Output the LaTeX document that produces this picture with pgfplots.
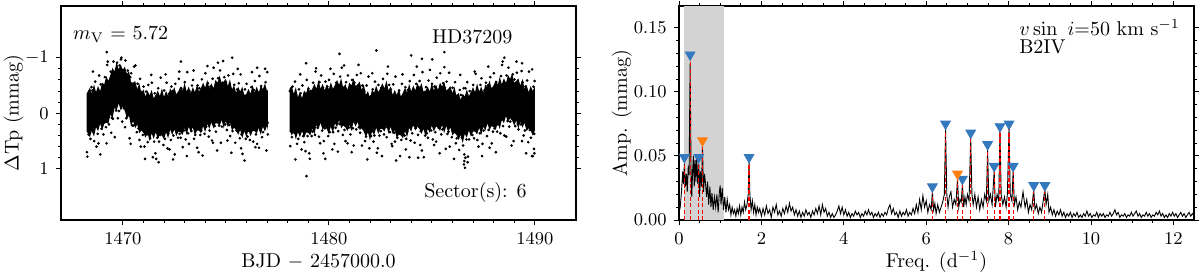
\documentclass[border=0pt]{standalone}
\usepackage{pgfplots}
\pgfplotsset{compat=1.18}
\definecolor{tabblue}{RGB}{52,120,190}
\definecolor{taborange}{RGB}{255,127,14}
\definecolor{shade}{RGB}{211,211,211}
\begin{document}
\begin{tikzpicture}
\path[use as bounding box] (0,0) rectangle (600pt,137.5pt);
\pgfplotsset{
  every axis/.append style={
    scale only axis, width=257.5pt, height=107pt,
    axis line style={line width=0.6pt},
    tick align=outside,
    major tick length=2.6pt, minor tick length=1.5pt,
    every tick/.style={black, line width=0.5pt},
    tick label style={font=\fontsize{9.3}{10}\selectfont},
    label style={font=\fontsize{10}{12}\selectfont},
    xlabel style={at={(axis description cs:0.5,-0.222)}, anchor=base, inner sep=0pt},
    xticklabel style={anchor=base, yshift=-9.4pt, inner sep=0pt},
  }
}
% ---------------- left panel: light curve ----------------
\begin{axis}[at={(30.5pt,27.5pt)}, anchor=south west,
  xmin=1467, xmax=1492, ymin=-1.93, ymax=1.92, y dir=reverse,
  xtick={1470,1480,1490}, minor x tick num=9,
  ytick={-1,0,1}, minor y tick num=4,
  /pgf/number format/1000 sep={},
  xlabel={BJD $-$ 2457000.0},
  ylabel={$\Delta$Tp (mmag)},
  ylabel style={at={(axis description cs:-0.0922,0.5)}, anchor=center},
  clip=true]
% dense core of segment 1 (upper edge forward, lower edge back)
\addplot[fill=black, draw=none] table[x expr=\thisrowno{0}+1400, y index=1] {
68.25 -0.35
68.3 -0.39
68.4 -0.46
68.5 -0.36
68.6 -0.52
68.7 -0.38
68.8 -0.49
68.9 -0.40
69.0 -0.55
69.1 -0.52
69.2 -0.67
69.3 -0.58
69.4 -0.69
69.5 -0.82
69.6 -0.75
69.7 -0.93
69.8 -0.79
69.9 -0.88
70.0 -0.77
70.1 -0.84
70.2 -0.71
70.3 -0.76
70.4 -0.56
70.5 -0.55
70.6 -0.58
70.7 -0.43
70.8 -0.54
70.9 -0.36
71.0 -0.43
71.1 -0.30
71.2 -0.41
71.3 -0.32
71.4 -0.42
71.5 -0.27
71.6 -0.33
71.7 -0.41
71.8 -0.31
71.9 -0.45
72.0 -0.29
72.1 -0.40
72.2 -0.31
72.3 -0.45
72.4 -0.37
72.5 -0.47
72.6 -0.34
72.7 -0.40
72.8 -0.48
72.9 -0.39
73.0 -0.55
73.1 -0.39
73.2 -0.48
73.3 -0.36
73.4 -0.47
73.5 -0.38
73.6 -0.51
73.7 -0.39
73.8 -0.46
73.9 -0.55
74.0 -0.46
74.1 -0.60
74.2 -0.44
74.3 -0.54
74.4 -0.45
74.5 -0.60
74.6 -0.55
74.7 -0.68
74.8 -0.54
74.9 -0.57
75.0 -0.62
75.1 -0.49
75.2 -0.61
75.3 -0.43
75.4 -0.50
75.5 -0.37
75.6 -0.48
75.7 -0.39
75.8 -0.48
75.9 -0.32
76.0 -0.35
76.1 -0.44
76.2 -0.35
76.3 -0.51
76.4 -0.37
76.5 -0.48
76.6 -0.37
76.7 -0.50
76.8 -0.43
76.9 -0.54
77.0 -0.40
77.04 -0.42
77.04 0.30
77.0 0.22
76.9 0.33
76.8 0.24
76.7 0.39
76.6 0.26
76.5 0.37
76.4 0.32
76.3 0.32
76.2 0.41
76.1 0.30
76.0 0.43
75.9 0.32
75.8 0.45
75.7 0.30
75.6 0.39
75.5 0.30
75.4 0.26
75.3 0.31
75.2 0.16
75.1 0.25
75.0 0.14
74.9 0.27
74.8 0.12
74.7 0.23
74.6 0.18
74.5 0.18
74.4 0.27
74.3 0.16
74.2 0.28
74.1 0.19
74.0 0.34
73.9 0.23
73.8 0.36
73.7 0.31
73.6 0.31
73.5 0.40
73.4 0.25
73.3 0.34
73.2 0.24
73.1 0.39
73.0 0.26
72.9 0.39
72.8 0.34
72.7 0.33
72.6 0.41
72.5 0.29
72.4 0.39
72.3 0.29
72.2 0.45
72.1 0.34
72.0 0.47
71.9 0.40
71.8 0.38
71.7 0.46
71.6 0.34
71.5 0.46
71.4 0.36
71.3 0.50
71.2 0.35
71.1 0.44
71.0 0.35
70.9 0.31
70.8 0.36
70.7 0.20
70.6 0.27
70.5 0.14
70.4 0.23
70.3 0.04
70.2 0.09
70.1 -0.04
70.0 -0.12
69.9 -0.05
69.8 -0.18
69.7 -0.05
69.6 -0.10
69.5 0.09
69.4 0.02
69.3 0.19
69.2 0.17
69.1 0.19
69.0 0.30
68.9 0.19
68.8 0.32
68.7 0.25
68.6 0.42
68.5 0.31
68.4 0.43
68.3 0.36
68.25 0.33
};
% dense core of segment 2
\addplot[fill=black, draw=none] table[x expr=\thisrowno{0}+1400, y index=1] {
78.1 -0.45
78.2 -0.49
78.3 -0.35
78.4 -0.47
78.5 -0.29
78.6 -0.38
78.7 -0.27
78.8 -0.41
78.9 -0.36
79.0 -0.49
79.1 -0.37
79.2 -0.44
79.3 -0.53
79.4 -0.44
79.5 -0.60
79.6 -0.44
79.7 -0.53
79.8 -0.41
79.9 -0.52
80.0 -0.43
80.1 -0.56
80.2 -0.44
80.3 -0.51
80.4 -0.60
80.5 -0.51
80.6 -0.63
80.7 -0.45
80.8 -0.53
80.9 -0.42
81.0 -0.55
81.1 -0.50
81.2 -0.63
81.3 -0.49
81.4 -0.52
81.5 -0.57
81.6 -0.42
81.7 -0.52
81.8 -0.33
81.9 -0.40
82.0 -0.27
82.1 -0.42
82.2 -0.37
82.3 -0.50
82.4 -0.38
82.5 -0.45
82.6 -0.54
82.7 -0.45
82.8 -0.59
82.9 -0.41
83.0 -0.48
83.1 -0.33
83.2 -0.42
83.3 -0.33
83.4 -0.44
83.5 -0.30
83.6 -0.37
83.7 -0.46
83.8 -0.37
83.9 -0.53
84.0 -0.39
84.1 -0.50
84.2 -0.41
84.3 -0.54
84.4 -0.45
84.5 -0.54
84.6 -0.38
84.7 -0.41
84.8 -0.48
84.9 -0.39
85.0 -0.55
85.1 -0.41
85.2 -0.52
85.3 -0.42
85.4 -0.55
85.5 -0.48
85.6 -0.57
85.7 -0.41
85.8 -0.44
85.9 -0.49
86.0 -0.36
86.1 -0.48
86.2 -0.30
86.3 -0.37
86.4 -0.24
86.5 -0.35
86.6 -0.30
86.7 -0.43
86.8 -0.31
86.9 -0.38
87.0 -0.47
87.1 -0.38
87.2 -0.54
87.3 -0.39
87.4 -0.48
87.5 -0.37
87.6 -0.52
87.7 -0.47
87.8 -0.59
87.9 -0.45
88.0 -0.50
88.1 -0.59
88.2 -0.50
88.3 -0.66
88.4 -0.52
88.5 -0.63
88.6 -0.54
88.7 -0.69
88.8 -0.62
88.9 -0.71
89.0 -0.55
89.1 -0.58
89.2 -0.63
89.3 -0.50
89.4 -0.62
89.5 -0.44
89.6 -0.51
89.7 -0.38
89.8 -0.49
89.9 -0.40
90.0 -0.49
90.0 0.31
89.9 0.40
89.8 0.31
89.7 0.27
89.6 0.32
89.5 0.17
89.4 0.26
89.3 0.15
89.2 0.28
89.1 0.13
89.0 0.22
88.9 0.13
88.8 0.09
88.7 0.16
88.6 0.05
88.5 0.18
88.4 0.11
88.3 0.28
88.2 0.17
88.1 0.30
88.0 0.25
87.9 0.23
87.8 0.30
87.7 0.18
87.6 0.31
87.5 0.24
87.4 0.39
87.3 0.26
87.2 0.38
87.1 0.33
87.0 0.33
86.9 0.42
86.8 0.31
86.7 0.44
86.6 0.37
86.5 0.54
86.4 0.39
86.3 0.48
86.2 0.39
86.1 0.35
86.0 0.40
85.9 0.25
85.8 0.34
85.7 0.23
85.6 0.36
85.5 0.21
85.4 0.32
85.3 0.25
85.2 0.24
85.1 0.33
85.0 0.22
84.9 0.35
84.8 0.28
84.7 0.43
84.6 0.28
84.5 0.37
84.4 0.28
84.3 0.24
84.2 0.31
84.1 0.20
84.0 0.33
83.9 0.26
83.8 0.43
83.7 0.32
83.6 0.45
83.5 0.40
83.4 0.38
83.3 0.45
83.2 0.30
83.1 0.37
83.0 0.24
82.9 0.37
82.8 0.22
82.7 0.33
82.6 0.28
82.5 0.28
82.4 0.37
82.3 0.26
82.2 0.39
82.1 0.32
82.0 0.49
81.9 0.34
81.8 0.43
81.7 0.33
81.6 0.27
81.5 0.30
81.4 0.15
81.3 0.24
81.2 0.15
81.1 0.32
81.0 0.21
80.9 0.32
80.8 0.25
80.7 0.22
80.6 0.27
80.5 0.12
80.4 0.25
80.3 0.18
80.2 0.35
80.1 0.24
80.0 0.37
79.9 0.28
79.8 0.24
79.7 0.30
79.6 0.17
79.5 0.28
79.4 0.21
79.3 0.38
79.2 0.27
79.1 0.40
79.0 0.35
78.9 0.35
78.8 0.44
78.7 0.32
78.6 0.43
78.5 0.34
78.4 0.47
78.3 0.32
78.2 0.40
78.1 0.30
};
% individual points of the fringes
\addplot[only marks, mark=*, mark size=0.45pt, black, mark options={draw=none}] table[x expr=\thisrowno{0}+1400, y index=1] {
68.31 -0.35
68.34 0.38
68.37 -0.24
68.48 -0.47
68.43 0.46
68.45 0.29
68.52 -0.41
68.57 0.34
68.55 -0.75
68.66 -0.57
68.61 0.50
68.69 0.20
68.74 -0.37
68.78 0.37
68.72 0.60
68.85 -0.68
68.82 0.54
68.88 -0.36
68.93 -0.52
68.97 0.28
68.91 0.74
69.01 -0.48
69.06 0.38
69.04 -0.35
69.13 -0.65
69.18 0.25
69.15 0.14
69.24 -0.87
69.21 0.54
69.27 -0.93
69.36 -0.58
69.33 0.20
69.38 -0.01
69.41 -0.75
69.47 0.08
69.44 0.35
69.55 -0.93
69.52 0.10
69.58 -0.65
69.63 -0.75
69.68 -0.05
69.61 0.43
69.72 -0.91
69.76 0.09
69.74 -0.68
69.84 -0.86
69.81 -0.04
69.87 -0.17
69.93 -1.00
69.97 0.15
69.91 -0.97
70.01 -0.78
70.05 -0.09
70.08 -0.23
70.13 -0.95
70.17 0.09
70.11 0.25
70.24 -0.77
70.21 0.06
70.27 -0.63
70.36 -0.65
70.33 0.45
70.38 0.55
70.41 -0.72
70.46 0.22
70.44 -0.46
70.55 -0.84
70.52 0.22
70.58 0.13
70.63 -0.46
70.68 0.34
70.61 -0.86
70.72 -0.53
70.76 0.27
70.74 0.15
70.84 -0.62
70.81 0.48
70.87 0.60
70.93 -0.38
70.97 0.39
70.91 -0.32
71.01 -0.48
71.05 0.60
71.08 0.82
71.13 -0.39
71.17 0.38
71.11 -0.23
71.24 -0.51
71.21 0.52
71.27 0.32
71.36 -0.27
71.33 0.45
71.38 -0.69
71.41 -0.55
71.46 0.79
71.44 0.29
71.55 -0.36
71.52 0.51
71.58 0.72
71.63 -0.31
71.68 0.44
71.61 -0.23
71.72 -0.45
71.76 0.51
71.74 0.88
71.84 -0.64
71.81 0.39
71.87 -0.20
71.93 -0.30
71.97 0.57
71.91 0.33
72.01 -0.41
72.05 0.46
72.08 -0.70
72.13 -0.55
72.17 0.63
72.11 0.25
72.24 -0.35
72.21 0.37
72.27 0.65
72.36 -0.48
72.33 0.48
72.38 -0.30
72.41 -0.40
72.46 0.40
72.44 0.83
72.55 -0.53
72.52 0.74
72.58 -0.23
72.63 -0.32
72.68 0.44
72.61 0.29
72.72 -0.62
72.76 0.37
72.74 -0.75
72.84 -0.45
72.81 0.44
72.87 0.21
72.82 -0.93
72.93 -0.41
72.97 0.31
72.91 0.61
73.01 -0.56
73.05 0.47
73.08 -0.35
73.13 -0.74
73.17 0.36
73.11 0.77
73.24 -0.40
73.21 0.55
73.27 -0.30
73.36 -0.50
73.33 0.32
73.38 0.24
73.41 -0.60
73.46 0.46
73.44 -0.77
73.55 -0.36
73.52 0.39
73.58 0.22
73.63 -0.50
73.68 0.70
73.61 0.62
73.72 -0.45
73.76 0.39
73.74 -0.34
73.84 -0.61
73.81 0.31
73.87 0.76
73.93 -0.41
73.97 0.37
73.91 -0.33
74.01 -0.72
74.05 0.24
74.08 0.18
74.13 -0.54
74.17 0.42
74.11 -0.85
74.24 -0.48
74.21 0.31
74.27 0.12
74.36 -0.62
74.33 0.49
74.38 0.53
74.41 -0.82
74.46 0.23
74.44 -0.43
74.55 -0.50
74.52 0.33
74.58 0.67
74.63 -0.63
74.68 0.22
74.61 -0.42
74.62 -0.91
74.72 -0.77
74.76 0.53
74.74 0.09
74.84 -0.55
74.81 0.24
74.87 -0.94
74.93 -0.65
74.97 0.20
74.91 0.05
75.01 -0.56
75.05 0.30
75.08 0.49
75.13 -0.68
75.17 0.21
75.11 -0.43
75.24 -0.44
75.21 0.41
75.27 0.71
75.36 -0.71
75.33 0.32
75.38 -0.34
75.31 -1.00
75.41 -0.51
75.46 0.53
75.44 0.21
75.55 -0.43
75.52 0.31
75.58 -0.80
75.63 -0.54
75.68 0.45
75.61 0.19
75.72 -0.70
75.76 0.38
75.74 0.63
75.84 -0.34
75.81 0.73
75.87 -0.29
75.93 -0.43
75.97 0.46
75.91 0.85
76.01 -0.53
76.05 0.42
76.08 -0.20
76.13 -0.33
76.17 0.48
76.11 0.31
76.24 -0.47
76.21 0.35
76.27 -0.74
76.36 -0.42
76.33 0.51
76.38 0.21
76.41 -0.58
76.46 0.38
76.44 0.61
76.55 -0.38
76.52 0.55
76.58 -0.35
76.52 -0.82
76.63 -0.67
76.68 0.31
76.61 0.62
76.72 -0.49
76.76 0.43
76.74 -0.30
76.84 -0.43
76.81 0.34
76.87 0.23
76.93 -0.56
76.97 0.67
76.91 -0.80
77.01 -0.74
77.04 0.38
77.03 0.17
69.22 -1.10
68.28 0.78
68.26 0.70
71.62 0.82
78.11 -0.40
78.15 0.32
78.13 0.59
78.24 -0.48
78.21 0.43
78.27 -0.32
78.36 -0.57
78.33 0.35
78.38 0.83
78.41 -0.33
78.46 0.55
78.44 -0.22
78.55 -0.43
78.52 0.46
78.58 0.33
78.63 -0.36
78.68 0.65
78.61 -0.70
78.72 -0.50
78.76 0.41
78.74 0.27
78.84 -0.29
78.81 0.52
78.87 0.68
78.93 -0.60
78.97 0.41
78.91 -0.28
78.92 1.13
78.90 -0.90
79.01 -0.44
79.05 0.72
79.08 0.82
79.13 -0.40
79.17 0.41
79.11 -0.27
79.24 -0.55
79.21 0.33
79.27 0.24
79.36 -0.75
79.33 0.39
79.38 -0.81
79.41 -0.43
79.46 0.26
79.44 0.14
79.55 -0.56
79.52 0.42
79.58 0.54
79.63 -0.68
79.68 0.31
79.61 -0.40
79.72 -0.46
79.76 0.50
79.74 0.72
79.84 -0.57
79.81 0.27
79.87 -0.34
79.83 0.82
79.93 -0.48
79.97 0.41
79.91 0.21
80.01 -0.60
80.05 0.34
80.08 -0.80
80.13 -0.40
80.17 0.65
80.11 0.15
80.24 -0.71
80.21 0.34
80.27 0.55
80.36 -0.55
80.33 0.26
80.38 -0.41
80.41 -0.51
80.46 0.32
80.44 0.69
80.55 -0.66
80.52 0.19
80.58 -0.40
80.52 -1.07
80.63 -0.82
80.68 0.39
80.61 0.15
80.72 -0.46
80.76 0.30
80.74 -0.86
80.84 -0.56
80.81 0.50
80.87 0.12
80.93 -0.68
80.97 0.26
80.91 0.54
81.01 -0.46
81.05 0.38
81.08 -0.40
81.13 -0.60
81.17 0.27
81.11 0.70
81.24 -0.55
81.21 0.58
81.27 -0.39
81.36 -0.69
81.33 0.29
81.38 0.14
81.41 -0.45
81.46 0.25
81.44 -0.87
81.55 -0.72
81.52 0.35
81.58 0.12
81.63 -0.50
81.68 0.28
81.61 0.58
81.72 -0.40
81.76 0.50
81.74 -0.32
81.84 -0.50
81.81 0.42
81.87 0.83
81.93 -0.66
81.97 0.63
81.91 -0.22
82.01 -0.30
82.05 0.41
82.08 0.33
82.13 -0.43
82.17 0.51
82.11 -0.72
82.24 -0.57
82.21 0.40
82.27 0.23
82.36 -0.37
82.33 0.71
82.38 0.63
82.31 -1.13
82.41 -0.51
82.46 0.40
82.44 -0.33
82.55 -0.46
82.52 0.32
82.58 0.77
82.63 -0.62
82.68 0.38
82.61 -0.32
82.72 -0.42
82.76 0.25
82.74 0.19
82.84 -0.71
82.81 0.43
82.87 -0.84
82.93 -0.51
82.97 0.34
82.91 0.15
83.01 -0.43
83.05 0.55
83.08 0.59
83.13 -0.52
83.17 0.35
83.11 -0.31
83.24 -0.66
83.21 0.51
83.27 0.85
83.36 -0.30
83.33 0.44
83.38 -0.20
83.41 -0.41
83.46 0.77
83.44 0.33
83.55 -0.53
83.52 0.48
83.58 -0.70
83.63 -0.33
83.68 0.40
83.61 0.25
83.72 -0.47
83.76 0.46
83.74 0.65
83.84 -0.42
83.81 0.33
83.87 -0.31
83.93 -0.58
83.97 0.49
83.91 0.79
84.01 -0.38
84.05 0.36
84.08 -0.30
84.00 -1.04
84.13 -0.69
84.17 0.53
84.11 0.21
84.24 -0.53
84.21 0.27
84.27 -0.84
84.36 -0.47
84.33 0.39
84.38 0.13
84.34 0.80
84.41 -0.58
84.46 0.32
84.44 0.57
84.55 -0.74
84.52 0.67
84.58 -0.35
84.52 -0.98
84.63 -0.38
84.68 0.40
84.61 0.79
84.72 -0.47
84.76 0.36
84.74 -0.26
84.84 -0.59
84.81 0.44
84.87 0.27
84.93 -0.39
84.97 0.31
84.91 -0.78
85.01 -0.53
85.05 0.47
85.08 0.17
85.02 -0.97
85.13 -0.48
85.17 0.34
85.11 0.57
85.24 -0.64
85.21 0.51
85.27 -0.39
85.36 -0.43
85.33 0.26
85.38 0.72
85.41 -0.72
85.46 0.38
85.44 -0.35
85.55 -0.54
85.52 0.29
85.58 0.18
85.63 -0.46
85.68 0.64
85.61 -0.83
85.61 -1.10
85.72 -0.57
85.76 0.37
85.74 0.16
85.84 -0.73
85.81 0.33
85.87 0.60
85.93 -0.37
85.97 0.43
85.91 -0.32
86.01 -0.46
86.05 0.34
86.08 0.82
86.13 -0.56
86.17 0.54
86.11 -0.23
86.24 -0.32
86.21 0.45
86.27 0.32
86.36 -0.42
86.33 0.66
86.38 -0.69
86.41 -0.33
86.46 0.44
86.44 0.30
86.55 -0.45
86.52 0.58
86.58 0.74
86.56 0.92
86.61 0.98
86.58 0.86
86.63 0.80
86.63 -0.45
86.68 0.47
86.61 -0.22
86.72 -0.56
86.76 0.78
86.74 0.88
86.84 -0.40
86.81 0.47
86.87 -0.21
86.93 -0.36
86.97 0.39
86.91 0.30
87.01 -0.51
87.05 0.45
87.08 -0.75
87.13 -0.71
87.17 0.32
87.11 0.20
87.24 -0.39
87.21 0.48
87.27 0.60
87.36 -0.51
87.33 0.36
87.38 -0.35
87.41 -0.63
87.46 0.55
87.44 0.77
87.55 -0.41
87.52 0.31
87.58 -0.30
87.63 -0.55
87.68 0.41
87.61 0.21
87.72 -0.50
87.76 0.30
87.74 -0.84
87.84 -0.65
87.81 0.62
87.87 0.12
87.93 -0.43
87.97 0.33
87.91 0.54
88.01 -0.72
88.05 0.27
88.08 -0.40
88.13 -0.56
88.17 0.33
88.11 0.70
88.24 -0.52
88.21 0.20
88.27 -0.39
88.36 -0.67
88.33 0.36
88.38 0.12
88.41 -0.87
88.46 0.23
88.44 -0.93
88.55 -0.55
88.52 0.40
88.58 0.02
88.52 -1.00
88.63 -0.68
88.68 0.14
88.61 0.42
88.72 -0.82
88.76 0.24
88.74 -0.54
88.84 -0.60
88.81 0.15
88.87 0.58
88.93 -0.70
88.97 0.50
88.91 -0.47
89.01 -0.61
89.05 0.23
89.08 0.08
89.13 -0.73
89.17 0.19
89.11 -0.93
89.24 -0.49
89.21 0.29
89.27 0.06
89.36 -0.76
89.33 0.20
89.38 0.50
89.38 -0.90
89.41 -0.56
89.46 0.40
89.44 -0.42
89.55 -0.48
89.52 0.31
89.58 0.72
89.63 -0.59
89.68 0.52
89.61 -0.33
89.72 -0.75
89.76 0.30
89.74 0.22
89.84 -0.39
89.81 0.44
89.87 -0.79
89.93 -0.48
89.97 0.37
89.91 0.20
89.86 0.77
89.90 0.77
89.99 -0.58
89.98 0.72
89.96 0.64
};
\node[anchor=west, inner sep=0pt, font=\fontsize{10}{12}\selectfont] at (axis description cs:0.023,0.868) {$m_{\rm V}$ = 5.72};
\node[anchor=west, inner sep=0pt, font=\fontsize{10}{12}\selectfont] at (axis description cs:0.72,0.854) {HD37209};
\node[anchor=east, inner sep=0pt, font=\fontsize{10}{12}\selectfont] at (axis description cs:0.905,0.127) {Sector(s): 6};
\end{axis}
% ---------------- right panel: amplitude spectrum ----------------
\begin{axis}[at={(339.5pt,27.5pt)}, anchor=south west,
  xmin=0, xmax=12.5, ymin=0, ymax=0.167,
  xtick={0,2,4,6,8,10,12}, minor x tick num=3,
  ytick={0,0.05,0.10,0.15}, minor y tick num=4,
  scaled y ticks=false,
  yticklabel style={/pgf/number format/fixed, /pgf/number format/fixed zerofill, /pgf/number format/precision=2},
  xlabel={Freq. (d$^{-1}$)},
  ylabel={Amp. (mmag)},
  ylabel style={at={(axis description cs:-0.1107,0.5)}, anchor=center},
  clip=true]
\addplot[fill=shade, draw=none] coordinates {(0.12,0) (1.1,0) (1.1,0.167) (0.12,0.167)};
\addplot[black, line width=0.45pt] table {
0.00 0.006
0.03 0.010
0.06 0.022
0.09 0.038
0.11 0.028
0.13 0.044
0.155 0.026
0.18 0.036
0.20 0.022
0.225 0.042
0.245 0.035
0.27 0.122
0.295 0.03
0.31 0.018
0.33 0.038
0.35 0.05
0.37 0.026
0.39 0.047
0.41 0.03
0.43 0.05
0.455 0.028
0.48 0.044
0.50 0.018
0.52 0.038
0.545 0.026
0.57 0.057
0.595 0.022
0.62 0.036
0.645 0.028
0.67 0.018
0.695 0.03
0.72 0.012
0.75 0.026
0.775 0.01
0.80 0.021
0.83 0.008
0.86 0.018
0.89 0.01
0.92 0.02
0.95 0.006
0.98 0.022
1.00 0.027
1.02 0.012
1.05 0.025
1.08 0.008
1.11 0.018
1.14 0.006
1.17 0.016
1.20 0.008
1.23 0.012
1.26 0.004
1.29 0.01
1.32 0.005
1.35 0.008
1.38 0.003
1.41 0.009
1.44 0.005
1.47 0.011
1.50 0.004
1.53 0.01
1.56 0.006
1.59 0.014
1.62 0.008
1.65 0.012
1.68 0.02
1.70 0.045
1.72 0.02
1.75 0.008
1.78 0.015
1.81 0.006
1.84 0.012
1.87 0.004
1.90 0.01
1.93 0.006
1.96 0.009
2.00 0.003
2.04 0.009
2.08 0.004
2.12 0.011
2.16 0.005
2.20 0.008
2.24 0.002
2.28 0.01
2.32 0.006
2.36 0.012
2.40 0.004
2.44 0.007
2.48 0.003
2.52 0.009
2.56 0.005
2.60 0.011
2.64 0.006
2.68 0.013
2.72 0.007
2.76 0.01
2.80 0.004
2.84 0.008
2.88 0.003
2.92 0.007
2.96 0.002
3.00 0.006
3.04 0.003
3.08 0.008
3.12 0.004
3.16 0.006
3.20 0.002
3.24 0.007
3.28 0.004
3.32 0.009
3.36 0.005
3.40 0.011
3.44 0.004
3.48 0.012
3.52 0.006
3.56 0.009
3.60 0.003
3.64 0.006
3.68 0.002
3.72 0.005
3.76 0.002
3.80 0.004
3.84 0.007
3.88 0.011
3.92 0.005
3.96 0.01
4.00 0.004
4.04 0.008
4.08 0.003
4.12 0.006
4.16 0.002
4.20 0.005
4.24 0.003
4.28 0.007
4.32 0.004
4.36 0.006
4.40 0.002
4.44 0.005
4.48 0.003
4.52 0.007
4.56 0.004
4.60 0.008
4.64 0.004
4.68 0.006
4.72 0.002
4.76 0.005
4.80 0.003
4.84 0.006
4.88 0.002
4.92 0.005
4.96 0.003
5.00 0.006
5.04 0.004
5.08 0.009
5.12 0.012
5.16 0.005
5.20 0.009
5.24 0.004
5.28 0.006
5.32 0.002
5.36 0.007
5.40 0.003
5.44 0.006
5.48 0.004
5.52 0.008
5.56 0.003
5.60 0.006
5.64 0.004
5.68 0.009
5.72 0.005
5.76 0.012
5.80 0.006
5.84 0.016
5.88 0.008
5.92 0.019
5.96 0.01
6.00 0.015
6.04 0.006
6.08 0.012
6.12 0.008
6.15 0.022
6.18 0.008
6.21 0.013
6.24 0.005
6.28 0.012
6.32 0.006
6.36 0.01
6.40 0.014
6.44 0.02
6.47 0.071
6.50 0.02
6.53 0.01
6.56 0.018
6.60 0.022
6.64 0.01
6.68 0.016
6.72 0.012
6.76 0.032
6.79 0.01
6.82 0.016
6.85 0.014
6.88 0.028
6.91 0.01
6.94 0.018
6.97 0.012
7.00 0.02
7.04 0.015
7.08 0.064
7.11 0.02
7.14 0.012
7.18 0.02
7.22 0.01
7.26 0.018
7.30 0.008
7.34 0.016
7.38 0.01
7.42 0.02
7.46 0.015
7.49 0.055
7.52 0.015
7.56 0.02
7.60 0.012
7.65 0.038
7.68 0.01
7.72 0.02
7.76 0.015
7.79 0.07
7.82 0.02
7.86 0.012
7.90 0.018
7.94 0.01
7.97 0.02
8.01 0.071
8.04 0.02
8.08 0.015
8.11 0.038
8.14 0.012
8.18 0.018
8.22 0.008
8.26 0.014
8.30 0.01
8.35 0.022
8.40 0.01
8.44 0.016
8.48 0.006
8.52 0.012
8.56 0.008
8.61 0.024
8.64 0.008
8.68 0.012
8.72 0.005
8.76 0.01
8.80 0.006
8.84 0.015
8.88 0.024
8.91 0.012
8.95 0.02
8.98 0.006
9.02 0.01
9.06 0.004
9.10 0.008
9.14 0.003
9.18 0.007
9.22 0.004
9.26 0.008
9.30 0.003
9.34 0.006
9.38 0.002
9.42 0.005
9.46 0.003
9.50 0.006
9.54 0.002
9.58 0.005
9.62 0.003
9.66 0.006
9.70 0.002
9.74 0.004
9.78 0.002
9.82 0.005
9.86 0.003
9.90 0.007
9.94 0.003
9.98 0.005
10.02 0.002
10.06 0.004
10.10 0.003
10.14 0.006
10.18 0.002
10.22 0.005
10.26 0.003
10.30 0.005
10.34 0.002
10.38 0.004
10.42 0.003
10.46 0.006
10.50 0.003
10.54 0.005
10.58 0.008
10.62 0.004
10.66 0.006
10.70 0.002
10.74 0.004
10.78 0.003
10.82 0.005
10.86 0.002
10.90 0.004
10.94 0.003
10.98 0.006
11.02 0.003
11.06 0.005
11.10 0.007
11.14 0.003
11.18 0.005
11.22 0.002
11.26 0.004
11.30 0.003
11.34 0.006
11.38 0.003
11.42 0.005
11.46 0.002
11.50 0.004
11.54 0.003
11.58 0.006
11.62 0.004
11.66 0.007
11.70 0.003
11.74 0.005
11.78 0.002
11.82 0.004
11.86 0.002
11.90 0.005
11.94 0.003
11.98 0.006
12.02 0.003
12.06 0.005
12.10 0.002
12.14 0.004
12.18 0.006
12.22 0.003
12.26 0.005
12.30 0.002
12.34 0.004
12.38 0.006
12.42 0.003
12.46 0.005
12.50 0.003
};
% extracted frequencies: dashed red lines
\addplot[red, ycomb, line width=0.6pt, dash pattern=on 2pt off 1.2pt] table {
0.13 0.046
0.27 0.125
0.48 0.046
0.57 0.059
1.70 0.046
6.15 0.023
6.47 0.072
6.76 0.033
6.88 0.029
7.08 0.065
7.49 0.056
7.65 0.039
7.79 0.070
8.01 0.072
8.11 0.039
8.61 0.024
8.88 0.024
};
\addplot[only marks, mark=triangle*, mark size=2.8pt, mark options={rotate=180, fill=tabblue, draw=tabblue}] table {
0.13 0.049
0.27 0.129
0.48 0.049
1.70 0.049
6.15 0.026
6.47 0.075
6.88 0.032
7.08 0.068
7.49 0.059
7.65 0.042
7.79 0.073
8.01 0.075
8.11 0.042
8.61 0.027
8.88 0.027
};
\addplot[only marks, mark=triangle*, mark size=2.8pt, mark options={rotate=180, fill=taborange, draw=taborange}] table {
0.57 0.062
6.76 0.036
};
\node[anchor=west, inner sep=0pt, font=\fontsize{10}{12}\selectfont] at (axis description cs:0.66,0.90) {$v\sin\ i$=50 km s$^{-1}$};
\node[anchor=west, inner sep=0pt, font=\fontsize{10}{12}\selectfont] at (axis description cs:0.66,0.81) {B2IV};
\end{axis}
\end{tikzpicture}
\end{document}
